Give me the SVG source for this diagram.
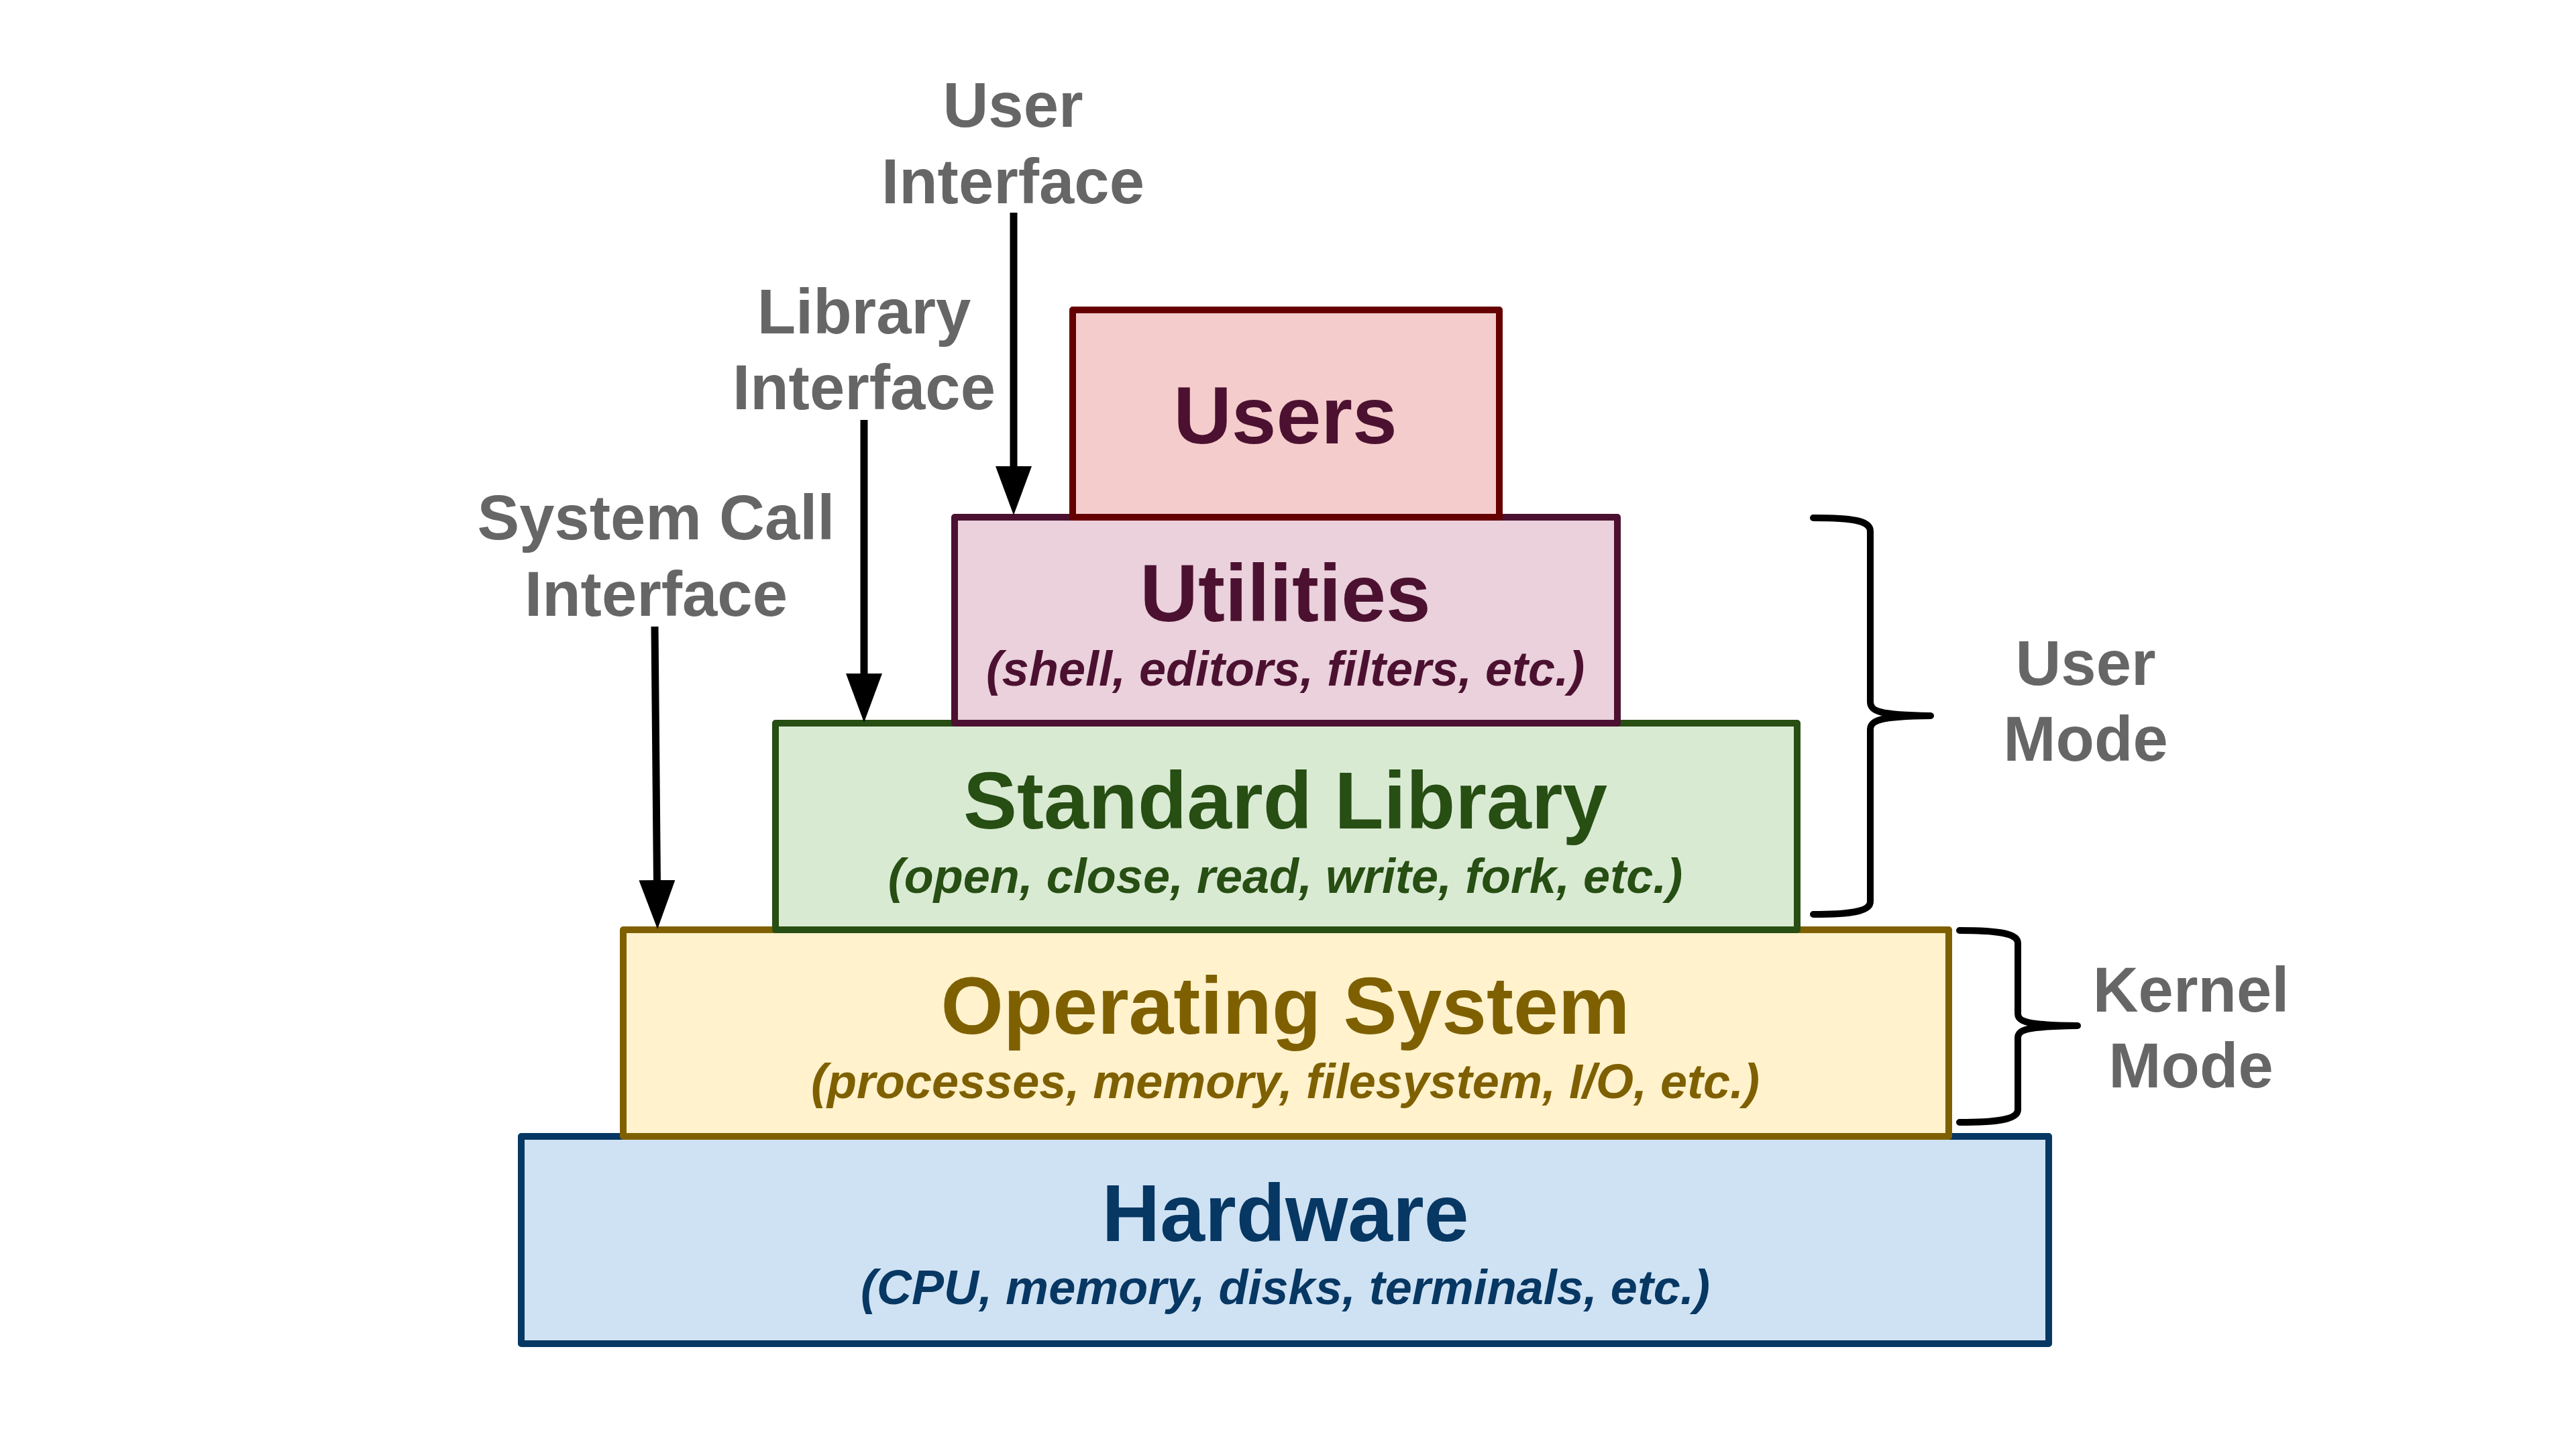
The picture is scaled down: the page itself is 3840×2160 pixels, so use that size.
<svg xmlns="http://www.w3.org/2000/svg" width="3840" height="2160" viewBox="0 0 3840 2160">
  <style>
    .box { stroke-width: 10; stroke-linejoin: round; }
    .title { font-family: "Liberation Sans", Arial, sans-serif; font-weight: bold; font-size: 120px; text-anchor: middle; }
    .sub { font-family: "Liberation Sans", Arial, sans-serif; font-weight: bold; font-style: italic; font-size: 72px; text-anchor: middle; }
    .label { font-family: "Liberation Sans", Arial, sans-serif; font-weight: bold; font-size: 94px; fill: #666666; text-anchor: middle; }
    .arrow { stroke: #000000; stroke-width: 11; fill: none; marker-end: url(#head); }
    .brace { stroke: #000000; stroke-width: 10; fill: none; stroke-linecap: round; stroke-linejoin: round; }
  </style>
  <defs>
    <marker id="head" markerUnits="userSpaceOnUse" viewBox="0 0 73 54" refX="5" refY="27" markerWidth="73" markerHeight="54" orient="auto">
      <path d="M0,0 L73,27 L0,54 Z" fill="#000000"/>
    </marker>
  </defs>
  <rect width="3840" height="2160" fill="#ffffff"/>

  <g id="hardware">
    <rect class="box" x="777" y="1694" width="2277" height="309" fill="#cfe2f3" stroke="#073763"/>
    <text class="title" x="1916" y="1850" fill="#073763">Hardware</text>
    <text class="sub" x="1916" y="1944" fill="#073763">(CPU, memory, disks, terminals, etc.)</text>
  </g>
  <g id="operating-system">
    <rect class="box" x="929" y="1386" width="1976" height="308" fill="#fff2cc" stroke="#7f6000"/>
    <text class="title" x="1916" y="1541" fill="#7f6000">Operating System</text>
    <text class="sub" x="1916" y="1637" fill="#7f6000">(processes, memory, filesystem, I/O, etc.)</text>
  </g>
  <g id="standard-library">
    <rect class="box" x="1156" y="1078" width="1523" height="308" fill="#d9ead3" stroke="#274e13"/>
    <text class="title" x="1916" y="1235" fill="#274e13">Standard Library</text>
    <text class="sub" x="1916" y="1331" fill="#274e13">(open, close, read, write, fork, etc.)</text>
  </g>
  <g id="utilities">
    <rect class="box" x="1423" y="771" width="988" height="307" fill="#ead1dc" stroke="#4c1130"/>
    <text class="title" x="1916" y="926" fill="#4c1130">Utilities</text>
    <text class="sub" x="1916" y="1022" fill="#4c1130">(shell, editors, filters, etc.)</text>
  </g>
  <g id="users">
    <rect class="box" x="1599" y="462" width="636" height="309" fill="#f4cccc" stroke="#660000"/>
    <text class="title" x="1916" y="661" fill="#4c1130">Users</text>
  </g>

  <g id="user-interface-label">
    <text class="label" x="1510" y="189">User</text>
    <text class="label" x="1510" y="303">Interface</text>
  </g>
  <g id="library-interface-label">
    <text class="label" x="1288" y="497">Library</text>
    <text class="label" x="1288" y="610">Interface</text>
  </g>
  <g id="system-call-interface-label">
    <text class="label" x="978" y="804">System Call</text>
    <text class="label" x="978" y="918">Interface</text>
  </g>
  <g id="user-mode-label">
    <text class="label" x="3109" y="1021">User</text>
    <text class="label" x="3109" y="1134">Mode</text>
  </g>
  <g id="kernel-mode-label">
    <text class="label" x="3266" y="1508">Kernel</text>
    <text class="label" x="3266" y="1621">Mode</text>
  </g>

  <g id="connectors">
    <line class="arrow" x1="1511" y1="317" x2="1511" y2="700"/>
    <line class="arrow" x1="1288" y1="626" x2="1288" y2="1009"/>
    <line class="arrow" x1="976" y1="934" x2="979.5" y2="1317"/>
    <path class="brace" d="M2703,772 C2762,772 2788,776 2788,792 L2788,1046 C2788,1060 2800,1066 2878,1067 C2800,1068 2788,1074 2788,1088 L2788,1344 C2788,1358 2762,1363 2703,1363"/>
    <path class="brace" d="M2921,1387 C2982,1387 3008,1392 3008,1406 L3008,1511 C3008,1523 3020,1528 3097,1529 C3020,1530 3008,1535 3008,1547 L3008,1654 C3008,1668 2982,1673 2921,1673"/>
  </g>
</svg>
